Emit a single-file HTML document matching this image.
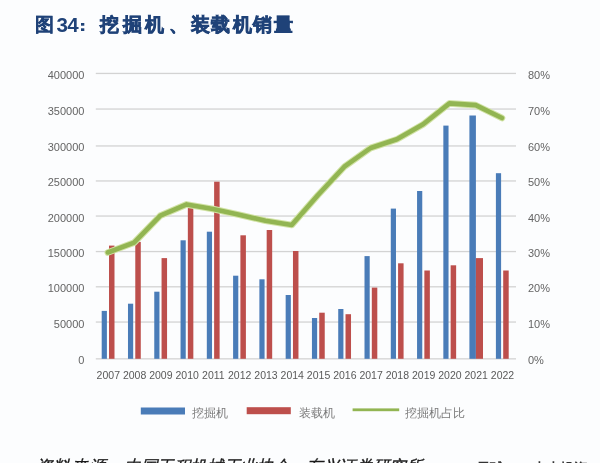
<!DOCTYPE html>
<html><head><meta charset="utf-8"><style>
html,body{margin:0;padding:0;background:#fcfdfe;width:600px;height:463px;overflow:hidden}
svg{position:absolute;left:0;top:0;filter:blur(0.4px)}
.ax{font-family:"Liberation Sans",sans-serif;font-size:11px;fill:#646464}
.yr{font-family:"Liberation Sans",sans-serif;font-size:10.5px;fill:#595959}
.lg{font-family:"Liberation Sans",sans-serif;font-size:12px;fill:#7a7a7a}
.tt{font-family:"Liberation Sans",sans-serif;font-size:18.5px;font-weight:bold;fill:#1f4278;stroke:#1f4278;stroke-width:0.7px}
.td{font-family:"Liberation Sans",sans-serif;font-size:20.5px;font-weight:bold;fill:#1f4278}
.src{font-family:"Liberation Sans",sans-serif;font-size:16.5px;font-style:italic;fill:#1a1a1a;stroke:#1a1a1a;stroke-width:0.35px}
.wm{font-family:"Liberation Sans",sans-serif;font-size:14px;font-weight:bold;fill:#333}
</style></head><body>
<svg width="600" height="463" viewBox="0 0 600 463">
<rect x="95.8" y="358.20" width="420.2" height="1.3" fill="#d3d3d3"/>
<rect x="95.8" y="321.40" width="420.2" height="1.3" fill="#d3d3d3"/>
<rect x="95.8" y="286.15" width="420.2" height="1.3" fill="#d3d3d3"/>
<rect x="95.8" y="250.90" width="420.2" height="1.3" fill="#d3d3d3"/>
<rect x="95.8" y="215.40" width="420.2" height="1.3" fill="#d3d3d3"/>
<rect x="95.8" y="180.30" width="420.2" height="1.3" fill="#d3d3d3"/>
<rect x="95.8" y="145.30" width="420.2" height="1.3" fill="#d3d3d3"/>
<rect x="95.8" y="108.40" width="420.2" height="1.3" fill="#d3d3d3"/>
<rect x="95.8" y="72.80" width="420.2" height="1.3" fill="#d3d3d3"/>
<text x="84.4" y="364.30" text-anchor="end" class="ax">0</text>
<text x="84.4" y="327.50" text-anchor="end" class="ax">50000</text>
<text x="84.4" y="292.25" text-anchor="end" class="ax">100000</text>
<text x="84.4" y="257.00" text-anchor="end" class="ax">150000</text>
<text x="84.4" y="221.50" text-anchor="end" class="ax">200000</text>
<text x="84.4" y="186.40" text-anchor="end" class="ax">250000</text>
<text x="84.4" y="151.40" text-anchor="end" class="ax">300000</text>
<text x="84.4" y="114.50" text-anchor="end" class="ax">350000</text>
<text x="84.4" y="78.90" text-anchor="end" class="ax">400000</text>
<text x="528" y="364.30" class="ax">0%</text>
<text x="528" y="327.50" class="ax">10%</text>
<text x="528" y="292.25" class="ax">20%</text>
<text x="528" y="257.00" class="ax">30%</text>
<text x="528" y="221.50" class="ax">40%</text>
<text x="528" y="186.40" class="ax">50%</text>
<text x="528" y="151.40" class="ax">60%</text>
<text x="528" y="114.50" class="ax">70%</text>
<text x="528" y="78.90" class="ax">80%</text>
<rect x="101.70" y="310.90" width="5.2" height="47.90" fill="#4a7cb8"/>
<rect x="109.00" y="245.60" width="5.5" height="113.20" fill="#bd4f4c"/>
<rect x="127.98" y="303.70" width="5.2" height="55.10" fill="#4a7cb8"/>
<rect x="135.28" y="241.90" width="5.5" height="116.90" fill="#bd4f4c"/>
<rect x="154.26" y="291.70" width="5.2" height="67.10" fill="#4a7cb8"/>
<rect x="161.56" y="258.10" width="5.5" height="100.70" fill="#bd4f4c"/>
<rect x="180.54" y="240.30" width="5.2" height="118.50" fill="#4a7cb8"/>
<rect x="187.84" y="207.00" width="5.5" height="151.80" fill="#bd4f4c"/>
<rect x="206.82" y="231.70" width="5.2" height="127.10" fill="#4a7cb8"/>
<rect x="214.12" y="181.70" width="5.5" height="177.10" fill="#bd4f4c"/>
<rect x="233.10" y="275.70" width="5.2" height="83.10" fill="#4a7cb8"/>
<rect x="240.40" y="235.30" width="5.5" height="123.50" fill="#bd4f4c"/>
<rect x="259.38" y="279.30" width="5.2" height="79.50" fill="#4a7cb8"/>
<rect x="266.68" y="230.00" width="5.5" height="128.80" fill="#bd4f4c"/>
<rect x="285.66" y="295.00" width="5.2" height="63.80" fill="#4a7cb8"/>
<rect x="292.96" y="251.00" width="5.5" height="107.80" fill="#bd4f4c"/>
<rect x="311.94" y="318.00" width="5.2" height="40.80" fill="#4a7cb8"/>
<rect x="319.24" y="312.70" width="5.5" height="46.10" fill="#bd4f4c"/>
<rect x="338.22" y="309.00" width="5.2" height="49.80" fill="#4a7cb8"/>
<rect x="345.52" y="314.20" width="5.5" height="44.60" fill="#bd4f4c"/>
<rect x="364.50" y="256.10" width="5.2" height="102.70" fill="#4a7cb8"/>
<rect x="371.80" y="287.60" width="5.5" height="71.20" fill="#bd4f4c"/>
<rect x="390.78" y="208.60" width="5.2" height="150.20" fill="#4a7cb8"/>
<rect x="398.08" y="263.30" width="5.5" height="95.50" fill="#bd4f4c"/>
<rect x="417.06" y="191.00" width="5.2" height="167.80" fill="#4a7cb8"/>
<rect x="424.36" y="270.50" width="5.5" height="88.30" fill="#bd4f4c"/>
<rect x="443.34" y="125.60" width="5.2" height="233.20" fill="#4a7cb8"/>
<rect x="450.64" y="265.30" width="5.5" height="93.50" fill="#bd4f4c"/>
<rect x="469.40" y="115.50" width="6.5" height="243.30" fill="#4a7cb8"/>
<rect x="475.90" y="258.10" width="7.1" height="100.70" fill="#bd4f4c"/>
<rect x="495.90" y="173.20" width="5.2" height="185.60" fill="#4a7cb8"/>
<rect x="503.20" y="270.50" width="5.5" height="88.30" fill="#bd4f4c"/>
<text x="108.30" y="378.6" text-anchor="middle" class="yr">2007</text>
<text x="134.58" y="378.6" text-anchor="middle" class="yr">2008</text>
<text x="160.86" y="378.6" text-anchor="middle" class="yr">2009</text>
<text x="187.14" y="378.6" text-anchor="middle" class="yr">2010</text>
<text x="213.42" y="378.6" text-anchor="middle" class="yr">2011</text>
<text x="239.70" y="378.6" text-anchor="middle" class="yr">2012</text>
<text x="265.98" y="378.6" text-anchor="middle" class="yr">2013</text>
<text x="292.26" y="378.6" text-anchor="middle" class="yr">2014</text>
<text x="318.54" y="378.6" text-anchor="middle" class="yr">2015</text>
<text x="344.82" y="378.6" text-anchor="middle" class="yr">2016</text>
<text x="371.10" y="378.6" text-anchor="middle" class="yr">2017</text>
<text x="397.38" y="378.6" text-anchor="middle" class="yr">2018</text>
<text x="423.66" y="378.6" text-anchor="middle" class="yr">2019</text>
<text x="449.94" y="378.6" text-anchor="middle" class="yr">2020</text>
<text x="476.22" y="378.6" text-anchor="middle" class="yr">2021</text>
<text x="502.50" y="378.6" text-anchor="middle" class="yr">2022</text>
<polyline points="107.80,252.50 134.08,242.60 160.36,215.60 186.64,204.40 212.92,209.00 239.20,214.70 265.48,220.80 291.76,225.00 318.04,195.00 344.32,166.70 370.60,148.00 396.88,139.30 423.16,124.30 449.44,103.40 475.72,105.10 502.00,118.00" fill="none" stroke="#d2e3a6" stroke-width="6.6" stroke-linejoin="round" stroke-linecap="round"/>
<polyline points="107.80,252.50 134.08,242.60 160.36,215.60 186.64,204.40 212.92,209.00 239.20,214.70 265.48,220.80 291.76,225.00 318.04,195.00 344.32,166.70 370.60,148.00 396.88,139.30 423.16,124.30 449.44,103.40 475.72,105.10 502.00,118.00" fill="none" stroke="#92b552" stroke-width="4.6" stroke-linejoin="round" stroke-linecap="round"/>
<rect x="140.8" y="407.5" width="44.2" height="7" fill="#4a7cb8"/>
<text x="191.5" y="416.5" class="lg">挖掘机</text>
<rect x="246.7" y="407.2" width="44.1" height="7" fill="#bd4f4c"/>
<text x="299" y="416.5" class="lg">装载机</text>
<rect x="352.6" y="408.4" width="46.6" height="2.8" fill="#92b552"/>
<text x="405" y="416.5" class="lg">挖掘机占比</text>
<text x="35.00" y="30.5" class="tt" style="stroke-width:0.25px">图</text>
<text x="99.70" y="30.5" class="tt">挖</text>
<text x="123.00" y="30.5" class="tt">掘</text>
<text x="145.30" y="30.5" class="tt">机</text>
<text x="169.00" y="30.5" class="tt">、</text>
<text x="190.80" y="30.5" class="tt">装</text>
<text x="211.40" y="30.5" class="tt">载</text>
<text x="232.50" y="30.5" class="tt">机</text>
<text x="253.30" y="30.5" class="tt">销</text>
<text x="273.80" y="30.5" class="tt">量</text>
<text x="56.6" y="31.7" class="td">3</text>
<text x="67.2" y="31.7" class="td">4</text>
<rect x="81" y="23" width="3.3" height="2.7" fill="#1f4278"/>
<rect x="81" y="28.3" width="3.3" height="2.7" fill="#1f4278"/>
<text x="35.50 53.25 71.00 88.75 106.50" y="472.2" class="src">资料来源：</text>
<text x="124.25 140.80 157.35 173.90 190.45 207.00 223.55 240.10 256.65 273.20 289.75 306.30 322.85 339.40 355.95 372.50 389.05 405.60" y="472.2" class="src">中国工程机械工业协会，东兴证券研究所</text>
<text x="476" y="472.8" class="wm">雪球：@小小投资</text>
</svg>

</body></html>
